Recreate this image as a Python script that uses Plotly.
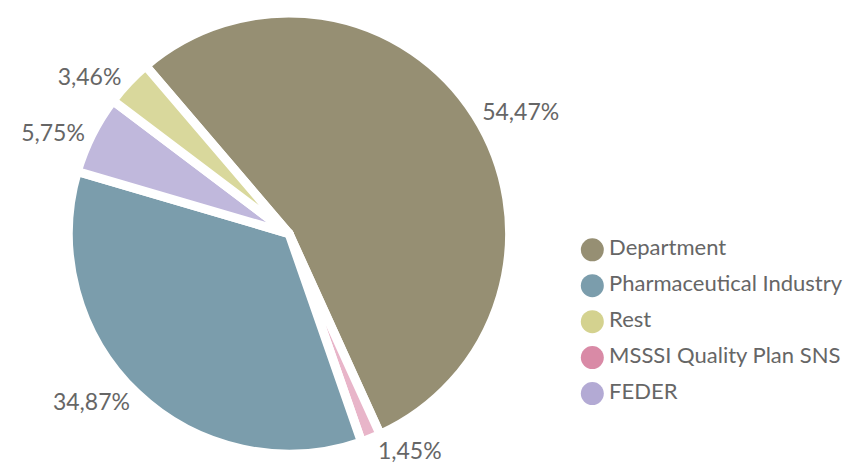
import plotly.graph_objects as go

# Data (legend order)
categories = ["Department", "Pharmaceutical Industry", "Rest",
              "MSSSI Quality Plan SNS", "FEDER"]
values = [54.47, 34.87, 3.46, 1.45, 5.75]
legend_colors = ["#968f73", "#7b9dac", "#d4d28f", "#d98aa6", "#b3aad4"]
slice_colors = ["#968f73", "#7b9dac", "#d9d89c", "#e8b5c9", "#c0b8dc"]

# Clockwise drawing order of the slices
pie_order = ["Department", "MSSSI Quality Plan SNS", "Pharmaceutical Industry",
             "FEDER", "Rest"]

idx = [categories.index(c) for c in pie_order]
FONT = "Lato, 'Open Sans', sans-serif"
TXT = "#666666"

fig = go.Figure()

fig.add_trace(go.Pie(
    labels=[categories[i] for i in idx],
    values=[values[i] for i in idx],
    marker=dict(colors=[slice_colors[i] for i in idx],
                line=dict(color="white", width=9)),
    sort=False,
    direction="clockwise",
    rotation=-40.5,
    textposition="outside",
    texttemplate="%{percent:.2%}",
    outsidetextfont=dict(family=FONT, size=23, color=TXT),
    showlegend=False,
    domain=dict(x=[0.0692, 0.5904], y=[0.0551, 0.9958]),
    hoverinfo="label+percent",
))

# Legend drawn as a marker column
fig.add_trace(go.Scatter(
    x=[0] * len(categories),
    y=list(range(len(categories))),
    mode="markers+text",
    text=categories,
    texttemplate="\u200a%{text}",
    textposition="middle right",
    textfont=dict(family=FONT, size=22, color=TXT),
    marker=dict(size=23, color=legend_colors),
    showlegend=False,
    hoverinfo="text",
    cliponaxis=False,
))

fig.update_layout(
    width=852, height=472,
    margin=dict(l=0, r=0, t=0, b=0),
    paper_bgcolor="white", plot_bgcolor="white",
    separators=",.",
    font=dict(family=FONT, color=TXT),
    xaxis=dict(domain=[0.66, 1.0], range=[-1, 12.17], visible=False, fixedrange=True),
    yaxis=dict(domain=[0.146, 0.5292], range=[4.5, -0.5], visible=False, fixedrange=True),
)

fig.write_html("out.html")
